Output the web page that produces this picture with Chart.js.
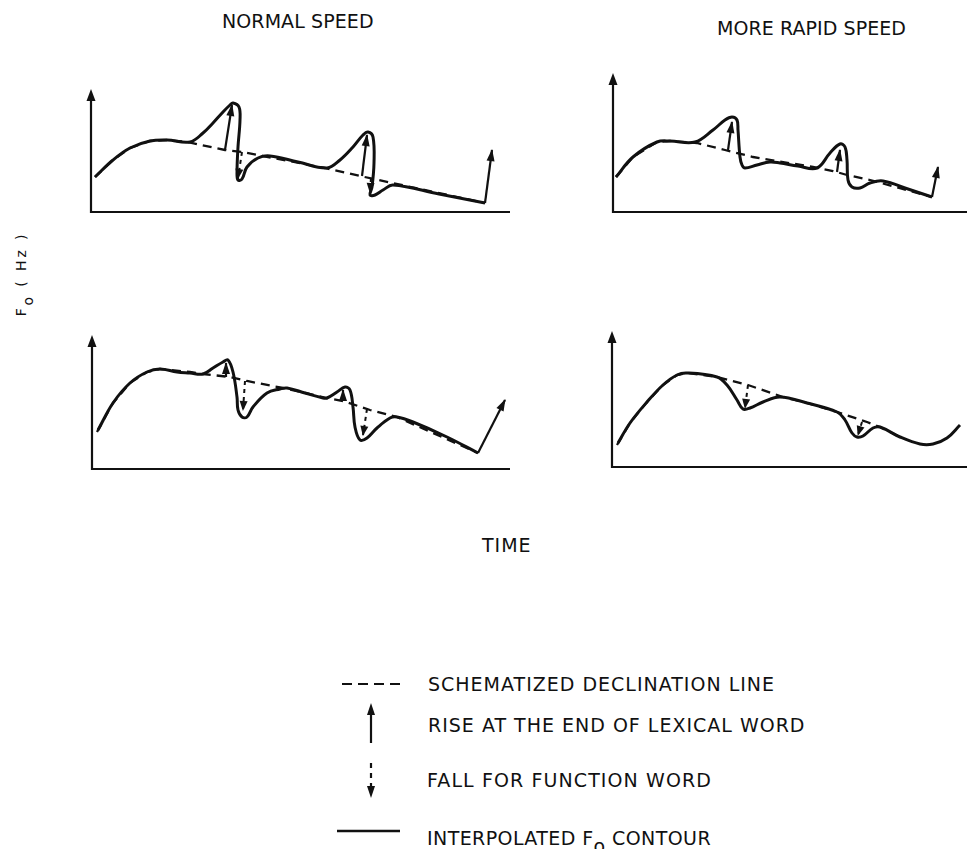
<!DOCTYPE html>
<html>
<head>
<meta charset="utf-8">
<script src="https://cdn.jsdelivr.net/npm/chart.js@4.4.1/dist/chart.umd.min.js"></script>
<style>
  html, body { margin: 0; padding: 0; background: #fff; width: 967px; height: 849px; overflow: hidden; }
  #page { position: relative; width: 967px; height: 849px; overflow: hidden; }
  canvas.panel { position: absolute; }
  .lbl { position: absolute; font-family: "DejaVu Sans", sans-serif; font-size: 19px; line-height: 19px;
         color: #111; white-space: nowrap; letter-spacing: 1px; }
  .lbl sub { font-size: inherit; vertical-align: -8px; line-height: 0; }
  #ylab { font-size: 14px; line-height: 14px; transform: translate(-50%, -50%) rotate(-90deg); }
  #ylab sub { vertical-align: -7px; }
  svg#key { position: absolute; left: 0; top: 0; }
</style>
</head>
<body>
<div id="page">
  <div class="lbl" data-w="152" style="left:222px; top:12px;">NORMAL SPEED</div>
  <div class="lbl" data-w="189" style="left:717px; top:19px;">MORE RAPID SPEED</div>
  <div class="lbl" id="ylab" data-w="82" style="left:21px; top:274px;">F<sub>o</sub> ( Hz )</div>
  <div class="lbl" style="left:482px; top:536px;">TIME</div>

  <div class="lbl" style="left:428px; top:675px;">SCHEMATIZED DECLINATION LINE</div>
  <div class="lbl" style="left:428px; top:716px;">RISE AT THE END OF LEXICAL WORD</div>
  <div class="lbl" data-w="284" style="left:427px; top:771px;">FALL FOR FUNCTION WORD</div>
  <div class="lbl" data-w="284" style="left:427px; top:829px;">INTERPOLATED F<sub>o</sub> CONTOUR</div>

  <svg id="key" width="967" height="849">
    <g stroke="#111" fill="none">
      <line x1="342" y1="684" x2="400" y2="684" stroke-width="2.2" stroke-dasharray="10 6"/>
      <line x1="371" y1="743" x2="371" y2="712" stroke-width="2.2"/>
      <line x1="371" y1="763" x2="371" y2="789" stroke-width="2.2" stroke-dasharray="5 5"/>
      <line x1="337" y1="831" x2="400" y2="831" stroke-width="2.6"/>
    </g>
    <g fill="#111">
      <polygon points="371,703 367,715 375,715"/>
      <polygon points="371,798 367,786 375,786"/>
    </g>
  </svg>
</div>

<script>
// F0 contour sketches: time runs from utterance onset, F0 is measured above the baseline
// (both in arbitrary units). Each panel has an interpolated contour, a schematized
// declination line, rises at the ends of lexical words and falls for function words.

// ---- upper row, normal speed ----
const contourTopNormal = [[4,35],[22,52],[39,64],[59,71],[76,72],[99,70],[112,79],[122,89],[132,100],[139,107],[142,109],[148,105],[149,92],[147,65],[146,39],[147,32],[151,33],[156,45],[167,54],[179,56],[207,50],[236,44],[249,52],[262,65],[272,77],[277,80],[282,75],[283,49],[281,25],[279,17],[284,17],[292,22],[302,27],[348,18],[394,9]];
const declTopNormal = [[4,35],[22,52],[39,64],[59,71],[76,72],[96,70],[134,62],[151,60],[234,44],[269,36],[394,9]];
const riseTopNormal = [[[134,62],[141,107]], [[271,36],[276,77]], [[394,9],[401,62]]];
const fallTopNormal = [[[151,60],[147,34]], [[280,34],[279,20]]];

// ---- upper row, more rapid speed ----
const contourTopRapid = [[3,35],[20,55],[44,70],[57,71],[82,70],[100,82],[112,92],[119,95],[124,92],[125,82],[127,55],[129,47],[132,44],[144,47],[157,50],[167,49],[185,46],[204,44],[217,59],[227,68],[232,65],[234,52],[235,32],[239,25],[247,24],[257,29],[270,31],[295,23],[319,15]];
const declTopRapid = [[3,35],[20,55],[44,70],[57,71],[84,69],[112,62],[140,55],[164,51],[200,45],[220,41],[234,37],[257,32],[319,15]];
const riseTopRapid = [[[115,62],[119,90]], [[224,40],[227,62]], [[319,15],[325,45]]];
const fallTopRapid = [];

// ---- lower row, normal speed ----
const contourBottomNormal = [[6,39],[21,66],[38,86],[55,97],[68,100],[85,97],[98,96],[111,95],[121,101],[131,107],[136,109],[141,97],[145,72],[146,59],[150,52],[155,52],[161,62],[175,76],[188,80],[195,81],[213,76],[231,71],[235,71],[245,77],[253,82],[258,79],[261,62],[263,42],[268,29],[275,31],[285,41],[298,51],[305,52],[321,47],[355,32],[386,16]];
const declBottomNormal = [[5,37],[21,66],[38,86],[55,97],[68,100],[98,97],[111,95],[138,92],[155,88],[191,81],[235,71],[251,68],[278,59],[305,52],[386,16]];
const riseBottomNormal = [[[134,92],[134,106]], [[251,68],[251,79]], [[386,16],[413,69]]];
const fallBottomNormal = [[[153,88],[151,59]], [[275,60],[271,34]]];

// ---- lower row, more rapid speed ----
const contourBottomRapid = [[6,24],[18,44],[35,65],[51,82],[65,92],[75,94],[105,90],[115,82],[125,67],[131,58],[138,59],[151,65],[168,70],[195,64],[225,55],[233,47],[240,34],[245,30],[251,31],[261,39],[268,40],[288,30],[308,23],[321,23],[335,29],[348,42]];
const declBottomRapid = [[5,22],[18,44],[35,65],[51,82],[65,92],[75,94],[105,90],[136,82],[171,70],[195,64],[225,55],[255,45],[268,40],[288,30]];
const riseBottomRapid = [];
const fallBottomRapid = [[[136,82],[133,59]], [[250,45],[246,32]]];

const INK = '#111';
const PAD = 14;

// Axis lines with an arrowhead on the F0 axis, placed through the chart's own scales.
const axesWithArrow = {
  id: 'axesWithArrow',
  beforeDatasetsDraw(chart) {
    const { ctx, scales: { x, y } } = chart;
    const x0 = x.getPixelForValue(x.min), y0 = y.getPixelForValue(y.min);
    const x1 = x.getPixelForValue(x.max), yTop = y.getPixelForValue(y.max);
    ctx.save();
    ctx.strokeStyle = INK; ctx.fillStyle = INK; ctx.lineWidth = 2.2;
    ctx.beginPath();
    ctx.moveTo(x0, yTop + 8); ctx.lineTo(x0, y0); ctx.lineTo(x1, y0);
    ctx.stroke();
    ctx.beginPath();
    ctx.moveTo(x0, yTop); ctx.lineTo(x0 - 4.5, yTop + 12); ctx.lineTo(x0 + 4.5, yTop + 12);
    ctx.closePath(); ctx.fill();
    ctx.restore();
  }
};

// Filled arrowheads at the last point of every marker dataset.
const markerHeads = {
  id: 'markerHeads',
  afterDatasetsDraw(chart) {
    const ctx = chart.ctx;
    chart.data.datasets.forEach((ds, i) => {
      if (!ds.head) return;
      const pts = chart.getDatasetMeta(i).data;
      const a = pts[pts.length - 2], b = pts[pts.length - 1];
      const ang = Math.atan2(b.y - a.y, b.x - a.x);
      ctx.save();
      ctx.fillStyle = INK;
      ctx.translate(b.x, b.y); ctx.rotate(ang);
      ctx.beginPath();
      ctx.moveTo(1, 0); ctx.lineTo(-ds.head, -4); ctx.lineTo(-ds.head, 4);
      ctx.closePath(); ctx.fill();
      ctx.restore();
    });
  }
};

const toXY = arr => arr.map(([x, y]) => ({ x, y }));

function drawPanel(geom, contour, decl, rises, falls) {
  const canvas = document.createElement('canvas');
  canvas.className = 'panel';
  canvas.width = geom.xLen + 2 * PAD;
  canvas.height = geom.yLen + 2 * PAD;
  canvas.style.left = (geom.axisX - PAD) + 'px';
  canvas.style.top = (geom.axisY - geom.yLen - PAD) + 'px';
  document.getElementById('page').appendChild(canvas);

  const datasets = [
    { data: toXY(decl), borderColor: INK, borderWidth: 2.3, borderDash: [9, 6], tension: 0, clip: false },
    { data: toXY(contour), borderColor: INK, borderWidth: 3, tension: 0.38, clip: false }
  ];
  rises.forEach(r => datasets.push({ data: toXY(r), borderColor: INK, borderWidth: 2.2, tension: 0, head: 11, clip: false }));
  falls.forEach(f => datasets.push({ data: toXY(f), borderColor: INK, borderWidth: 2, borderDash: [4, 4], tension: 0, head: 9, clip: false }));

  new Chart(canvas, {
    type: 'line',
    data: { datasets },
    options: {
      responsive: false,
      animation: false,
      devicePixelRatio: 1,
      layout: { padding: PAD },
      elements: { point: { radius: 0, hoverRadius: 0 }, line: { borderCapStyle: 'butt', fill: false } },
      scales: {
        x: { type: 'linear', min: 0, max: geom.xLen, display: false },
        y: { type: 'linear', min: 0, max: geom.yLen, display: false }
      },
      plugins: { legend: { display: false }, tooltip: { enabled: false }, title: { display: false } },
      events: []
    },
    plugins: [axesWithArrow, markerHeads]
  });
}

drawPanel({ axisX: 91, axisY: 212, xLen: 419, yLen: 123 }, contourTopNormal, declTopNormal, riseTopNormal, fallTopNormal);
drawPanel({ axisX: 613, axisY: 212, xLen: 354, yLen: 139 }, contourTopRapid, declTopRapid, riseTopRapid, fallTopRapid);
drawPanel({ axisX: 92, axisY: 469, xLen: 418, yLen: 134 }, contourBottomNormal, declBottomNormal, riseBottomNormal, fallBottomNormal);
drawPanel({ axisX: 612, axisY: 467, xLen: 355, yLen: 136 }, contourBottomRapid, declBottomRapid, riseBottomRapid, fallBottomRapid);

// Spread a label's letters to its given width.
document.querySelectorAll('.lbl[data-w]').forEach(el => {
  const target = +el.dataset.w;
  el.style.letterSpacing = '0px';
  const w = el.offsetWidth;
  const n = el.textContent.length;
  if (n > 1) el.style.letterSpacing = ((target - w) / (n - 1)).toFixed(2) + 'px';
});
</script>
</body>
</html>
